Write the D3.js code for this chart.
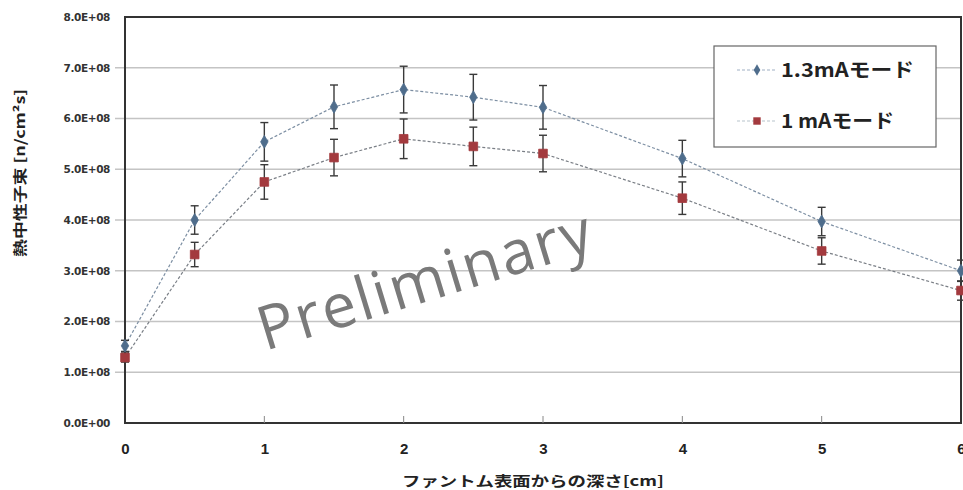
<!DOCTYPE html>
<html><head><meta charset="utf-8">
<script src="https://cdn.jsdelivr.net/npm/d3@7"></script>
<style>
html,body{margin:0;padding:0;background:#fff;}
svg{display:block;}
</style></head>
<body>
<svg id="c" width="963" height="490"></svg>
<script>
const depths = [0, 0.5, 1, 1.5, 2, 2.5, 3, 4, 5, 6];
const seriesNames = ["1.3mAモード", "1 mAモード"];
const flux13 = [1.52e8, 4.00e8, 5.54e8, 6.23e8, 6.57e8, 6.42e8, 6.22e8, 5.21e8, 3.97e8, 3.00e8];
const err13  = [0.11e8, 0.28e8, 0.38e8, 0.43e8, 0.46e8, 0.45e8, 0.43e8, 0.36e8, 0.28e8, 0.21e8];
const flux10 = [1.29e8, 3.32e8, 4.75e8, 5.23e8, 5.60e8, 5.45e8, 5.31e8, 4.43e8, 3.39e8, 2.61e8];
const err10  = [0.09e8, 0.24e8, 0.34e8, 0.36e8, 0.39e8, 0.38e8, 0.36e8, 0.32e8, 0.26e8, 0.19e8];
const yTicks = [0, 1e8, 2e8, 3e8, 4e8, 5e8, 6e8, 7e8, 8e8];
const xTicks = [0, 1, 2, 3, 4, 5, 6];
const yTickLabels = ["0.0E+00","1.0E+08","2.0E+08","3.0E+08","4.0E+08","5.0E+08","6.0E+08","7.0E+08","8.0E+08"];
const xTitle = "ファントム表面からの深さ[cm]";
const yTitle = "熱中性子束 [n/cm²s]";
const watermark = "Preliminary";

const svg = d3.select("#c");
const L = 125, R = 961, T = 17, B = 423;
const x = d3.scaleLinear().domain([0, 6]).range([L, R]);
const y = d3.scaleLinear().domain([0, 8e8]).range([B, T]);
const font = "'Noto Sans CJK JP', 'Liberation Sans', sans-serif";

// gridlines
svg.append("g").selectAll("line").data(yTicks.slice(1, -1)).join("line")
  .attr("x1", L - 10).attr("x2", R).attr("y1", d => y(d)).attr("y2", d => y(d))
  .attr("stroke", "#c4c4c4").attr("stroke-width", 1.3);

// watermark
svg.append("text").text(watermark)
  .attr("transform", `translate(265,351) rotate(-17)`)
  .attr("font-family", "'Open Sans', sans-serif").attr("font-size", 61)
  .attr("fill", "#7a7a7a").attr("textLength", 346).attr("lengthAdjust", "spacing");

// frame
svg.append("rect").attr("x", L).attr("y", T).attr("width", R - L).attr("height", B - T)
  .attr("fill", "none").attr("stroke", "#333").attr("stroke-width", 2);

// y axis
const yAxis = d3.axisLeft(y).tickValues(yTicks).tickSize(0).tickPadding(15)
  .tickFormat((d, i) => yTickLabels[i]);
const gy = svg.append("g").attr("transform", `translate(${L},0)`).call(yAxis);
gy.select(".domain").remove();
gy.selectAll("text").attr("font-family", "'DejaVu Sans', sans-serif")
  .attr("font-size", 10.5).attr("font-weight", "bold").attr("fill", "#333").attr("letter-spacing", -0.4);

// x axis
const xAxis = d3.axisBottom(x).tickValues(xTicks).tickSize(0).tickPadding(20).tickFormat(d3.format("d"));
const gx = svg.append("g").attr("transform", `translate(0,${B})`).call(xAxis);
gx.select(".domain").remove();
gx.selectAll("text").attr("font-family", "'Liberation Sans', sans-serif")
  .attr("font-size", 15).attr("font-weight", "bold").attr("fill", "#222");
svg.append("g").selectAll("line").data(xTicks.slice(1, -1)).join("line")
  .attr("x1", d => x(d)).attr("x2", d => x(d)).attr("y1", B - 7).attr("y2", B)
  .attr("stroke", "#888").attr("stroke-width", 1);

// titles
svg.append("text").text(xTitle).attr("x", 533).attr("y", 486).attr("text-anchor", "middle")
  .attr("font-family", font).attr("font-size", 14).attr("font-weight", "bold").attr("fill", "#222")
  .attr("textLength", 262).attr("lengthAdjust", "spacingAndGlyphs");
svg.append("text").text(yTitle).attr("transform", "translate(25,173) rotate(-90)").attr("text-anchor", "middle")
  .attr("font-family", font).attr("font-size", 14).attr("font-weight", "bold").attr("fill", "#222")
  .attr("textLength", 168).attr("lengthAdjust", "spacingAndGlyphs");

const series = [
  {vals: flux13, errs: err13, line: "#7d8fa3", mark: "#4f6d8c", shape: d3.symbolDiamond},
  {vals: flux10, errs: err10, line: "#7a7f86", mark: "#a33a3e", shape: d3.symbolSquare}
];

const lineGen = d3.line().x((d, i) => x(depths[i])).y(d => y(d));
series.forEach(s => {
  svg.append("path").datum(s.vals).attr("d", lineGen).attr("fill", "none")
    .attr("stroke", s.line).attr("stroke-width", 1.2).attr("stroke-dasharray", "3,2");
});
series.forEach(s => {
  const g = svg.append("g");
  s.vals.forEach((v, i) => {
    const cx = x(depths[i]);
    const y1 = y(v + s.errs[i]), y2 = y(v - s.errs[i]);
    g.append("line").attr("x1", cx).attr("x2", cx).attr("y1", y1).attr("y2", y2).attr("stroke", "#3a3a3a").attr("stroke-width", 1.4);
    g.append("line").attr("x1", cx - 4).attr("x2", cx + 4).attr("y1", y1).attr("y2", y1).attr("stroke", "#3a3a3a").attr("stroke-width", 1.4);
    g.append("line").attr("x1", cx - 4).attr("x2", cx + 4).attr("y1", y2).attr("y2", y2).attr("stroke", "#3a3a3a").attr("stroke-width", 1.4);
  });
  g.selectAll("path").data(s.vals).join("path")
    .attr("d", d3.symbol().type(s.shape).size(s.shape === d3.symbolDiamond ? 48 : 75))
    .attr("transform", (d, i) => `translate(${x(depths[i])},${y(d)})`)
    .attr("fill", s.mark).attr("stroke", s.mark).attr("stroke-width", 0.8);
});

// legend
const lg = svg.append("g");
lg.append("rect").attr("x", 714).attr("y", 46).attr("width", 222).attr("height", 101)
  .attr("fill", "#fff").attr("stroke", "#666").attr("stroke-width", 1.2);
const legendLen = [133, 113];
series.forEach((s, i) => {
  const ly = 70 + i * 51;
  lg.append("line").attr("x1", 737).attr("x2", 777).attr("y1", ly).attr("y2", ly)
    .attr("stroke", i === 0 ? "#9fb0c4" : "#b7c4cc").attr("stroke-width", 1.2).attr("stroke-dasharray", "3,2");
  lg.append("path").attr("d", d3.symbol().type(s.shape).size(s.shape === d3.symbolDiamond ? 38 : 55))
    .attr("transform", `translate(757,${ly})`).attr("fill", s.mark);
  lg.append("text").text(seriesNames[i]).attr("x", 781).attr("y", ly + 7)
    .attr("font-family", font).attr("font-size", 19.5).attr("font-weight", "bold").attr("fill", "#222")
    .attr("textLength", legendLen[i]).attr("lengthAdjust", "spacingAndGlyphs");
});
</script>
</body></html>
